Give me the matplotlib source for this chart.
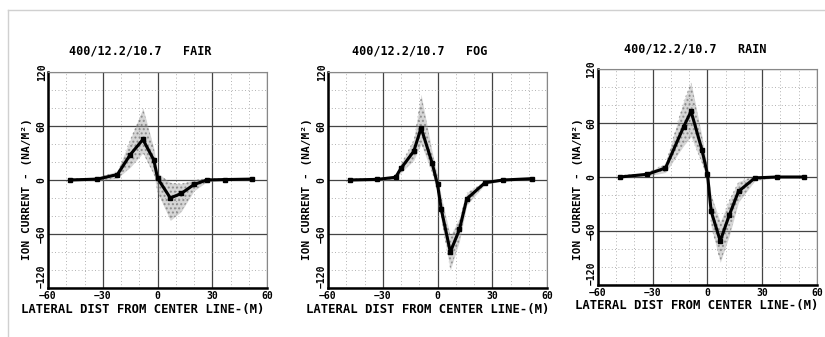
import numpy as np
import matplotlib
matplotlib.use("Agg")
import matplotlib.pyplot as plt
from matplotlib.lines import Line2D

# lateral distance (m) and mean ion current (nA/m^2)
x_fair = [-48, -33, -22, -15, -8, -2, 0, 7, 13, 20, 27, 37, 52]
y_fair = [0, 1, 6, 28, 45, 22, 2, -20, -15, -5, 0, 0.5, 1]
up_fair = [2, 3, 10, 45, 80, 35, 8, -3, -4, 0, 2, 2, 2]
lo_fair = [-1, -1, 2, 14, 30, 6, -14, -45, -35, -12, -2, -1, -1]

x_fog = [-48, -33, -23, -20, -13, -9, -3, 0, 2, 7, 12, 16, 26, 36, 52]
y_fog = [0, 0.7, 3, 13, 32, 58, 19, -5, -32, -80, -55, -21, -3, 0, 1.5]
up_fog = [2, 2, 5, 18, 45, 95, 32, 5, -18, -62, -42, -14, -1, 1, 2]
lo_fog = [-1, -1, 1, 8, 22, 40, 8, -15, -45, -100, -68, -28, -5, -1, 0]

x_rain = [-48, -33, -23, -13, -9, -3, 0, 2, 7, 12, 17, 26, 38, 53]
y_rain = [0, 3, 10, 56, 73, 30, 3, -38, -71, -42, -16, -1, 0, 0]
up_rain = [2, 5, 15, 85, 105, 45, 10, -20, -50, -25, -5, 1, 1, 1]
lo_rain = [-1, 1, 5, 35, 45, 15, -5, -55, -95, -65, -28, -4, -1, -1]

titles = ["400/12.2/10.7   FAIR", "400/12.2/10.7   FOG", "400/12.2/10.7   RAIN"]
xticks = [-60, -30, 0, 30, 60]
yticks = [-120, -60, 0, 60, 120]

panels = [
    (x_fair, y_fair, up_fair, lo_fair),
    (x_fog, y_fog, up_fog, lo_fog),
    (x_rain, y_rain, up_rain, lo_rain),
]
# axes boxes in figure fractions
boxes = [
    [0.0582, 0.1454, 0.2655, 0.641],
    [0.3976, 0.1454, 0.2655, 0.641],
    [0.7248, 0.1543, 0.2655, 0.641],
]
# text anchor positions in pixels (x centre)
title_x = [140, 420, 695]
title_y = [51, 51, 49]
xlab_x = [143, 428, 697]
xlab_y = [309, 309, 306]
ylab_x = [27, 307, 578]

plt.rcParams['font.family'] = ['DejaVu Sans Mono']
fig = plt.figure(figsize=(8.25, 3.37), dpi=100)
W, H = 825, 337

# light frame of the scanned page
fig.add_artist(Line2D([8/W, 8/W], [0, 1 - 10/H], color="#d0d0d0", lw=1))
fig.add_artist(Line2D([8/W, 1], [1 - 10/H, 1 - 10/H], color="#d0d0d0", lw=1))

for i, (xs, ys, up, lo) in enumerate(panels):
    ax = fig.add_axes(boxes[i])
    ax.set_xlim(-60, 60)
    ax.set_ylim(-120, 120)
    ax.set_xticks(xticks)
    ax.set_yticks(yticks)
    ax.set_xticks(np.arange(-60, 61, 10), minor=True)
    ax.set_yticks(np.arange(-120, 121, 20), minor=True)
    ax.grid(which="major", color="#444444", lw=0.9)
    ax.grid(which="minor", color="#999999", lw=0.6, ls=(0, (1, 3)))
    ax.set_axisbelow(True)

    # spread of individual measurements
    ax.fill_between(xs, lo, up, color="#9a9a9a", alpha=0.4, lw=0)
    ax.fill_between(xs, lo, up, facecolor="none", edgecolor="#555555",
                    hatch="....", lw=0, alpha=0.5)
    ax.plot(xs, ys, color="black", lw=2.2, marker="s", ms=3.5)

    for s in ["left", "bottom"]:
        ax.spines[s].set_linewidth(1.8)
    for s in ["top", "right"]:
        ax.spines[s].set_color("#888888")
        ax.spines[s].set_linewidth(0.8)
    ax.tick_params(which="both", length=0, labelsize=7, pad=2)
    ax.tick_params(axis="y", pad=1)
    ylabels = ax.get_yticklabels()
    for t in ylabels:
        t.set_rotation(90)
        t.set_va("center")
        t.set_fontweight("bold")
    ylabels[0].set_va("bottom")
    for t in ax.get_xticklabels():
        t.set_fontweight("bold")

    fig.text(title_x[i] / W, 1 - title_y[i] / H, titles[i], fontsize=8.5,
             ha="center", va="center", fontweight="bold")
    fig.text(xlab_x[i] / W, 1 - xlab_y[i] / H,
             "LATERAL DIST FROM CENTER LINE-(M)", fontsize=8.8,
             ha="center", va="center", fontweight="bold")
    fig.text(ylab_x[i] / W, 1 - 189 / H,
             "ION CURRENT - (NA/M\u00b2)", rotation=90, fontsize=8,
             ha="center", va="center", fontweight="bold")

fig.savefig("out.png", dpi=100)
